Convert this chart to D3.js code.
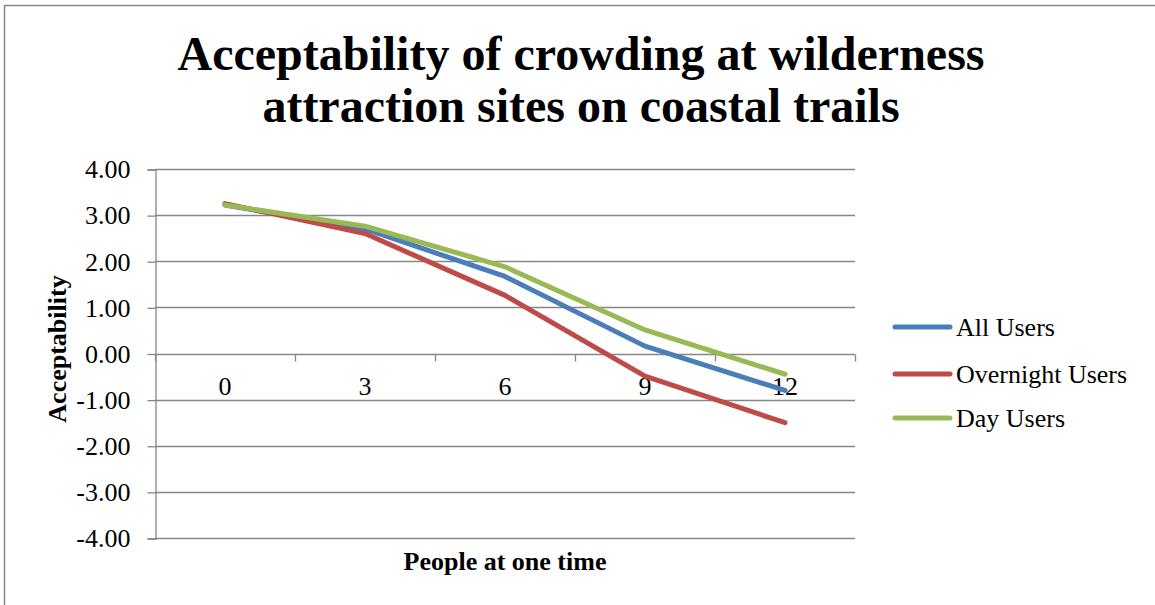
<!DOCTYPE html>
<html>
<head>
<meta charset="utf-8">
<script src="https://cdn.jsdelivr.net/npm/d3@7"></script>
<style>
  html, body { margin: 0; padding: 0; background: #fff; }
  svg { display: block; }
  text { font-family: "Liberation Serif", "Times New Roman", serif; fill: #000; }
</style>
</head>
<body>
<svg id="chart" width="1155" height="605"></svg>
<script>
// Mean acceptability rating by number of people seen at one time
const categories = ["0", "3", "6", "9", "12"];
const allUsers = [3.22, 2.70, 1.67, 0.16, -0.80];
const overnightUsers = [3.25, 2.60, 1.26, -0.49, -1.50];
const dayUsers = [3.22, 2.76, 1.88, 0.51, -0.45];
const yTicks = [4, 3, 2, 1, 0, -1, -2, -3, -4];
const seriesNames = ["All Users", "Overnight Users", "Day Users"];
const seriesColors = ["#4a7ebb", "#be4b48", "#98b954"];

const series = [allUsers, overnightUsers, dayUsers].map((values, i) => ({
  name: seriesNames[i], color: seriesColors[i], values
}));

const svg = d3.select("#chart");
const gridColor = "#868686";
const labelSize = 26;

// outer chart frame
svg.append("rect")
  .attr("x", 4.5).attr("y", 5.5)
  .attr("width", 1200).attr("height", 700)
  .attr("fill", "none").attr("stroke", gridColor).attr("stroke-width", 1.5);

const plot = { left: 155, right: 855, top: 169, bottom: 538 };

const x = d3.scaleBand().domain(categories).range([plot.left, plot.right]);
const y = d3.scaleLinear().domain([-4, 4]).range([plot.bottom, plot.top]);

// horizontal gridlines
svg.append("g")
  .selectAll("line")
  .data(yTicks)
  .join("line")
  .attr("x1", plot.left).attr("x2", plot.right)
  .attr("y1", d => Math.round(y(d)) + 0.5).attr("y2", d => Math.round(y(d)) + 0.5)
  .attr("stroke", gridColor).attr("stroke-width", 1.3);

// value axis (plain hyphen for negatives)
const yAxis = svg.append("g")
  .attr("transform", `translate(${plot.left + 0.5},0.5)`)
  .call(d3.axisLeft(y).tickValues(yTicks).tickFormat(d => d.toFixed(2)).tickSize(8).tickPadding(17));
yAxis.select(".domain").attr("stroke", gridColor).attr("stroke-width", 1.3);
yAxis.selectAll(".tick line").attr("stroke", gridColor).attr("stroke-width", 1.3);
yAxis.selectAll(".tick text")
  .attr("font-family", "Liberation Serif, serif")
  .attr("font-size", labelSize).attr("fill", "#000");

// category axis crossing at zero
const xAxis = svg.append("g")
  .attr("transform", `translate(0,${Math.round(y(0)) + 0.5})`)
  .call(d3.axisBottom(x).tickSize(0).tickPadding(22));
xAxis.select(".domain").remove();
xAxis.selectAll(".tick text")
  .attr("font-family", "Liberation Serif, serif")
  .attr("font-size", labelSize).attr("fill", "#000");
// category boundary ticks
const boundaries = categories.map(c => x(c)).concat([plot.right]);
xAxis.append("g")
  .selectAll("line")
  .data(boundaries)
  .join("line")
  .attr("x1", d => Math.round(d) + 0.5).attr("x2", d => Math.round(d) + 0.5)
  .attr("y1", 0).attr("y2", 7)
  .attr("stroke", gridColor).attr("stroke-width", 1.3);

// series lines
const line = d3.line()
  .x((d, i) => x(categories[i]) + x.bandwidth() / 2)
  .y(d => y(d));

svg.append("g")
  .selectAll("path")
  .data(series)
  .join("path")
  .attr("d", d => line(d.values))
  .attr("fill", "none")
  .attr("stroke", d => d.color)
  .attr("stroke-width", 5)
  .attr("stroke-linejoin", "round")
  .attr("stroke-linecap", "round");

// legend
const legendY = [327, 374, 418];
const legend = svg.append("g")
  .selectAll("g")
  .data(series)
  .join("g")
  .attr("transform", (d, i) => `translate(895,${legendY[i]})`);
legend.append("line")
  .attr("x1", 0).attr("x2", 55)
  .attr("stroke", d => d.color)
  .attr("stroke-width", 5)
  .attr("stroke-linecap", "round");
legend.append("text")
  .attr("x", 61).attr("dy", "0.35em")
  .attr("font-size", labelSize)
  .text(d => d.name);

// title
const title = svg.append("text")
  .attr("text-anchor", "middle")
  .attr("font-size", 48)
  .attr("font-weight", "bold");
title.append("tspan").attr("x", 581).attr("y", 70).text("Acceptability of crowding at wilderness");
title.append("tspan").attr("x", 581).attr("y", 122).text("attraction sites on coastal trails");

// axis titles
svg.append("text")
  .attr("transform", "translate(57,349) rotate(-90)")
  .attr("text-anchor", "middle")
  .attr("dy", "0.35em")
  .attr("font-size", labelSize)
  .attr("font-weight", "bold")
  .text("Acceptability");

svg.append("text")
  .attr("x", 505).attr("y", 570)
  .attr("text-anchor", "middle")
  .attr("font-size", labelSize)
  .attr("font-weight", "bold")
  .text("People at one time");
</script>
</body>
</html>
